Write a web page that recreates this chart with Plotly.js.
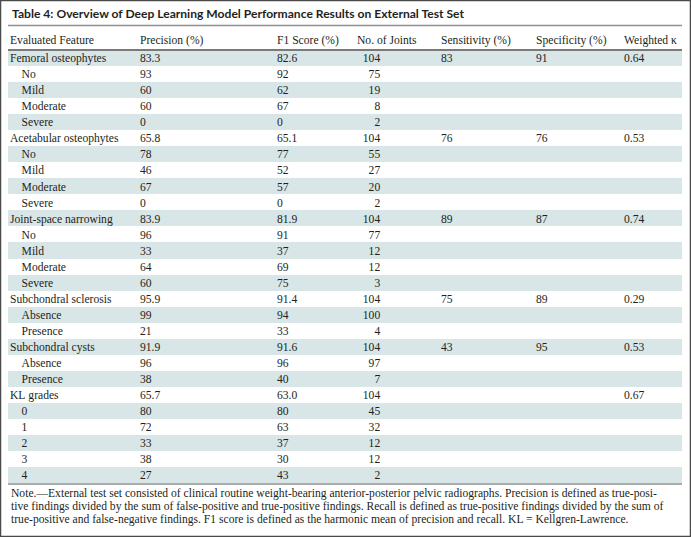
<!DOCTYPE html>
<html>
<head>
<meta charset="utf-8">
<script src="https://cdn.plot.ly/plotly-3.0.1.min.js"></script>
<style>html,body{margin:0;padding:0;background:#fff;}#chart{width:691px;height:537px;}</style>
</head>
<body>
<div id="chart"></div>
<script>
const titleText = "Table 4: Overview of Deep Learning Model Performance Results on External Test Set";
const headers = ["Evaluated Feature", "Precision (%)", "F1 Score (%)", "No. of Joints", "Sensitivity (%)", "Specificity (%)", "Weighted \u03ba"];
const features = ["Femoral osteophytes","No","Mild","Moderate","Severe",
  "Acetabular osteophytes","No","Mild","Moderate","Severe",
  "Joint-space narrowing","No","Mild","Moderate","Severe",
  "Subchondral sclerosis","Absence","Presence",
  "Subchondral cysts","Absence","Presence",
  "KL grades","0","1","2","3","4"];
const isSubRow = [0,1,1,1,1, 0,1,1,1,1, 0,1,1,1,1, 0,1,1, 0,1,1, 0,1,1,1,1,1];
const precision = ["83.3","93","60","60","0","65.8","78","46","67","0","83.9","96","33","64","60","95.9","99","21","91.9","96","38","65.7","80","72","33","38","27"];
const f1Score = ["82.6","92","62","67","0","65.1","77","52","57","0","81.9","91","37","69","75","91.4","94","33","91.6","96","40","63.0","80","63","37","30","43"];
const joints = [104,75,19,8,2,104,55,27,20,2,104,77,12,12,3,104,100,4,104,97,7,104,45,32,12,12,2];
const sensitivity = ["83",null,null,null,null,"76",null,null,null,null,"89",null,null,null,null,"75",null,null,"43",null,null,null,null,null,null,null,null];
const specificity = ["91",null,null,null,null,"76",null,null,null,null,"87",null,null,null,null,"89",null,null,"95",null,null,null,null,null,null,null,null];
const kappa = ["0.64",null,null,null,null,"0.53",null,null,null,null,"0.74",null,null,null,null,"0.29",null,null,"0.53",null,null,"0.67",null,null,null,null,null];
const noteLines = [
  "Note.\u2014External test set consisted of clinical routine weight-bearing anterior-posterior pelvic radiographs. Precision is defined as true-posi-",
  "tive findings divided by the sum of false-positive and true-positive findings. Recall is defined as true-positive findings divided by the sum of",
  "true-positive and false-negative findings. F1 score is defined as the harmonic mean of precision and recall. KL = Kellgren-Lawrence."
];

const W = 691, H = 537;
const px = x => x / W;
const py = y => 1 - y / H;
const EN = "\u2002", NBSP = "\u00a0";
const shade = "#d9e6e7", white = "#ffffff", clear = "rgba(0,0,0,0)";
const textColor = "#231f20";
const serif = "Liberation Serif, Times New Roman, serif";
const fontSize = 11.6;

const nb = s => s.split(" ").join(NBSP);
const headerCells = headers.map(nb);
const featureCells = features.map((f, i) => (isSubRow[i] ? "\u2003" : "") + nb(f));
const jointCells = joints.map(v => EN + EN.repeat(3 - String(v).length) + v);
const blank = a => a.map(v => v === null ? "" : v);
const rowFill = features.map((_, i) => i % 2 === 0 ? shade : white);
const emptyCol = features.map(() => "");

const colLefts = [2, 132, 269, 349, 433, 528, 616, 682];
const colWidths = colLefts.slice(1).map((v, i) => v - colLefts[i]);

const rowH = 16.04;
// fill table (true row geometry)
const fillTop = 26, fillHeaderH = 24;
const tableBottom = fillTop + fillHeaderH + rowH * features.length;
// text table (offset so text sits centred in rows)
const textTop = 27, textHeaderH = 18.5;

const noLine = {width: 0, color: clear};

const fillTrace = {
  type: "table",
  domain: {x: [px(colLefts[0]), px(colLefts[7])], y: [py(tableBottom + 20), py(fillTop)]},
  columnwidth: colWidths,
  header: {values: headers.map(() => ""), height: fillHeaderH, fill: {color: white}, line: noLine,
           font: {family: serif, size: fontSize, color: textColor}},
  cells: {values: headers.map(() => emptyCol), height: rowH, fill: {color: headers.map(() => rowFill)}, line: noLine,
          font: {family: serif, size: fontSize, color: textColor}}
};

const textTrace = {
  type: "table",
  domain: {x: [px(colLefts[0]), px(colLefts[7])], y: [py(tableBottom + 20), py(textTop)]},
  columnwidth: colWidths,
  header: {
    values: headerCells, align: "left", height: textHeaderH,
    fill: {color: clear}, line: noLine,
    font: {family: serif, size: fontSize, color: textColor}
  },
  cells: {
    values: [featureCells, precision, f1Score, jointCells, blank(sensitivity), blank(specificity), blank(kappa)],
    align: "left", height: rowH,
    fill: {color: clear}, line: noLine,
    font: {family: serif, size: fontSize, color: textColor}
  }
};

const lineShape = (y, w, c) => ({type: "line", xref: "paper", yref: "paper", layer: "above",
  x0: px(8), x1: px(682), y0: py(y), y1: py(y), line: {color: c, width: w}});

const noteAnns = noteLines.map((t, i) => ({
  xref: "paper", yref: "paper", x: px(9), y: py(493 + i * 13.4), xanchor: "left", yanchor: "middle",
  showarrow: false, align: "left", text: t, font: {family: serif, size: 11.6, color: textColor}
}));

const layout = {
  width: W, height: H,
  margin: {l: 0, r: 0, t: 0, b: 0},
  paper_bgcolor: white,
  showlegend: false,
  shapes: [
    {type: "rect", xref: "paper", yref: "paper", layer: "above", x0: px(1), x1: px(8), y0: py(tableBottom + 20), y1: py(fillTop), fillcolor: white, line: {width: 0}},
    {type: "rect", xref: "paper", yref: "paper", layer: "above", x0: px(8), x1: px(689), y0: py(tableBottom + 20), y1: py(tableBottom + 1), fillcolor: white, line: {width: 0}},
    lineShape(25.5, 1.5, "#8f8f8f"),
    lineShape(50, 2, "#7a7a7a"),
    lineShape(tableBottom + 1, 1.5, "#8f8f8f"),
    {type: "rect", xref: "paper", yref: "paper", layer: "above", x0: px(0.5), x1: px(690.5), y0: py(536.5), y1: py(0.5), line: {color: "#4a4a4a", width: 1.5}}
  ],
  annotations: [
    {xref: "paper", yref: "paper", x: px(10), y: py(14), xanchor: "left", yanchor: "middle", showarrow: false,
     text: "<b>" + titleText + "</b>", font: {family: "Lato, Open Sans, sans-serif", size: 12.1, color: textColor}}
  ].concat(noteAnns)
};

Plotly.newPlot("chart", [fillTrace, textTrace], layout, {displayModeBar: false, staticPlot: true});
</script>
</body>
</html>
